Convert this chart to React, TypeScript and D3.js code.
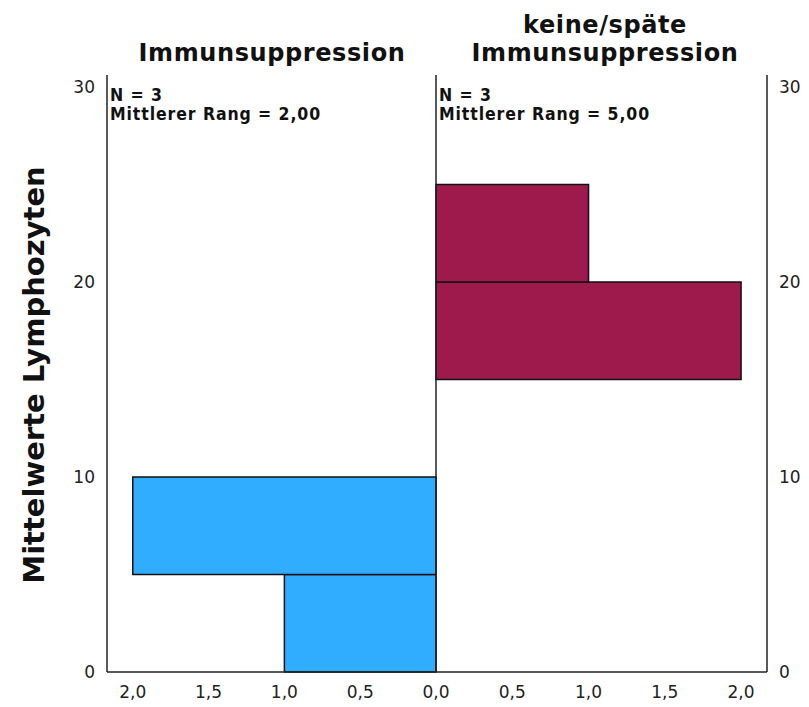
import React from "react";
import * as d3 from "d3";

// Data
const leftBins = [
  { x0: 0, x1: 5, count: 1 },
  { x0: 5, x1: 10, count: 2 },
];
const rightBins = [
  { x0: 15, x1: 20, count: 2 },
  { x0: 20, x1: 25, count: 1 },
];
const yTicks = [0, 10, 20, 30];
const xTicks = [0, 0.5, 1, 1.5, 2];
const leftTitle = ["Immunsuppression"];
const rightTitle = ["keine/späte", "Immunsuppression"];
const leftStats = ["N = 3", "Mittlerer Rang = 2,00"];
const rightStats = ["N = 3", "Mittlerer Rang = 5,00"];
const yLabel = "Mittelwerte Lymphozyten";

const W = 809;
const H = 707;
const top = 75;
const bottom = 672;
const xLeft = 107;
const xMid = 436;
const xRight = 767;
const countMax = 2.17;

export default function App() {
  const y = d3.scaleLinear().domain([0, 30]).range([bottom, 87]);
  const xl = d3.scaleLinear().domain([countMax, 0]).range([xLeft, xMid]);
  const xr = d3.scaleLinear().domain([0, countMax]).range([xMid, xRight]);
  const fmt = (v: number) => d3.format(".1f")(v).replace(".", ",");
  const font = "'DejaVu Sans', sans-serif";
  const condensed = "'DejaVu Sans Condensed', 'DejaVu Sans', sans-serif";
  return (
    <svg
      width={W}
      height={H}
      style={{ position: "absolute", left: 0, top: 0, background: "#fff" }}
    >
      {/* bars */}
      {leftBins.map((b, i) => (
        <rect
          key={"l" + i}
          x={xl(b.count)}
          y={y(b.x1)}
          width={xl(0) - xl(b.count)}
          height={y(b.x0) - y(b.x1)}
          fill="#31adff"
          stroke="#111"
          strokeWidth={1.5}
        />
      ))}
      {rightBins.map((b, i) => (
        <rect
          key={"r" + i}
          x={xr(0)}
          y={y(b.x1)}
          width={xr(b.count) - xr(0)}
          height={y(b.x0) - y(b.x1)}
          fill="#9e1a4c"
          stroke="#111"
          strokeWidth={1.5}
        />
      ))}
      {/* axes lines */}
      <line x1={xLeft} x2={xLeft} y1={top} y2={bottom} stroke="#222" strokeWidth={1.5} />
      <line x1={xMid} x2={xMid} y1={top} y2={bottom} stroke="#222" strokeWidth={1.5} />
      <line x1={xRight} x2={xRight} y1={top} y2={bottom} stroke="#222" strokeWidth={1.5} />
      <line x1={xLeft} x2={xRight} y1={bottom} y2={bottom} stroke="#222" strokeWidth={1.5} />
      {/* y ticks */}
      {yTicks.map((t) => (
        <g key={"y" + t} fontFamily={font} fontSize={17} fill="#222">
          <text x={95} y={y(t)} dy="0.35em" textAnchor="end">{t}</text>
          <text x={779} y={y(t)} dy="0.35em" textAnchor="start">{t}</text>
        </g>
      ))}
      {/* x ticks */}
      {xTicks.map((t) => (
        <text key={"xl" + t} x={xl(t)} y={698} textAnchor="middle" fontFamily={font} fontSize={17} fill="#222">{fmt(t)}</text>
      ))}
      {xTicks.filter((t) => t > 0).map((t) => (
        <text key={"xr" + t} x={xr(t)} y={698} textAnchor="middle" fontFamily={font} fontSize={17} fill="#222">{fmt(t)}</text>
      ))}
      {/* titles */}
      {leftTitle.map((s, i) => (
        <text key={"lt" + i} x={272} y={61 + i * 29} textAnchor="middle" fontFamily={font} fontWeight="bold" fontSize={24} letterSpacing={0.6} fill="#111">{s}</text>
      ))}
      {rightTitle.map((s, i) => (
        <text key={"rt" + i} x={605} y={33 + i * 28} textAnchor="middle" fontFamily={font} fontWeight="bold" fontSize={24} letterSpacing={0.6} fill="#111">{s}</text>
      ))}
      {/* stats */}
      {leftStats.map((s, i) => (
        <text key={"ls" + i} x={110} y={101 + i * 19} fontFamily={condensed} fontWeight="bold" fontSize={17.5} letterSpacing={0.9} fill="#111">{s}</text>
      ))}
      {rightStats.map((s, i) => (
        <text key={"rs" + i} x={439} y={101 + i * 19} fontFamily={condensed} fontWeight="bold" fontSize={17.5} letterSpacing={0.9} fill="#111">{s}</text>
      ))}
      {/* y label */}
      <text
        transform={`translate(44, ${375}) rotate(-90)`}
        textAnchor="middle"
        fontFamily={font}
        fontWeight="bold"
        fontSize={29}
        fill="#111"
      >
        {yLabel}
      </text>
    </svg>
  );
}
